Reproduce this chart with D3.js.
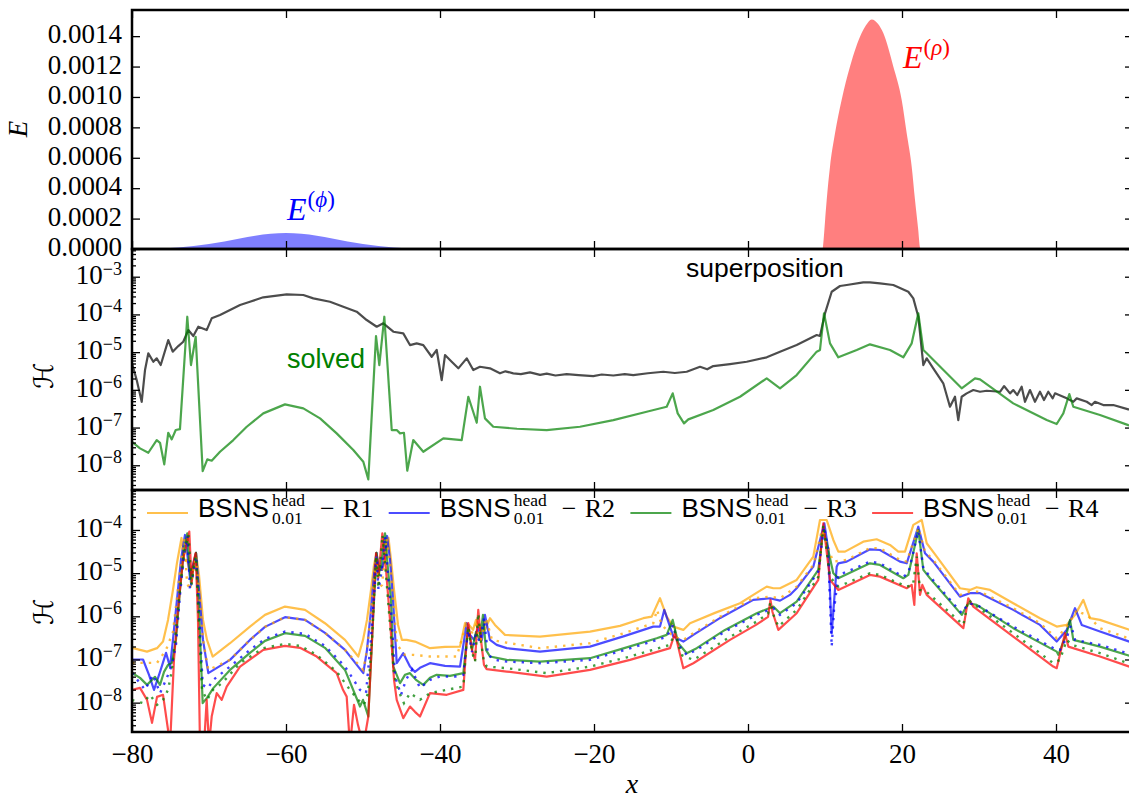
<!DOCTYPE html>
<html><head><meta charset="utf-8">
<script src="https://cdn.jsdelivr.net/npm/d3@7"></script>
<style>body{margin:0;background:#fff}svg{display:block}</style>
</head><body>
<svg id="c" width="1129" height="801"></svg>
<script>
// ---------------- DATA ----------------
const xTicks = [-80, -60, -40, -20, 0, 20, 40];
const eTicks = [0, 0.0002, 0.0004, 0.0006, 0.0008, 0.0010, 0.0012, 0.0014];
const eTickLabels = ["0.0000","0.0002","0.0004","0.0006","0.0008","0.0010","0.0012","0.0014"];
const h2Ticks = [1e-3, 1e-4, 1e-5, 1e-6, 1e-7, 1e-8];
const h2Exps = ["\u22123","\u22124","\u22125","\u22126","\u22127","\u22128"];
const h3Ticks = [1e-4, 1e-5, 1e-6, 1e-7, 1e-8];
const h3Exps = ["\u22124","\u22125","\u22126","\u22127","\u22128"];
const legendRes = ["R1","R2","R3","R4"];
const legendColors = ["orange","blue","green","red"];

// E^(phi) energy
const phiX = [-80,-78,-76,-74,-72,-70,-68,-66,-64,-62,-60,-58,-56,-54,-52,-50,-48,-46,-44,-42,-40,-38,-36];
const phiE = [9.0e-7,2.3e-6,5.0e-6,1.03e-5,1.91e-5,3.21e-5,4.92e-5,6.86e-5,8.69e-5,1.0e-4,1.05e-4,1.0e-4,8.69e-5,6.86e-5,4.92e-5,3.21e-5,1.91e-5,1.03e-5,5.0e-6,2.3e-6,9.0e-7,3e-7,0];
// E^(rho) energy
const rhoX = [9.7,9.8,10.0,10.22,10.65,11.3,12.16,13.25,14.76,15.3,16.06,16.9,17.57,18.87,19.96,20.61,21.26,21.69,22.1,22.34,22.4];
const rhoE = [0,0.00005,0.00018,0.000322,0.000541,0.000761,0.00098,0.0012,0.00142,0.00147,0.00151,0.00148,0.00142,0.0012,0.00098,0.000761,0.000541,0.000322,0.00013,0.00001,0];

// middle panel: superposition and solved
const superposition = [[-80,5.05e-6],[-79.39,1.82e-6],[-78.74,4.83e-7],[-78.31,3.35e-6],[-77.88,9.3e-6],[-77.23,5.56e-6],[-76.79,6.85e-6],[-76.27,4.55e-6],[-75.29,2.09e-5],[-74.71,1.03e-5],[-73.99,1.45e-5],[-73.34,1.89e-5],[-72.69,3.85e-5],[-72.04,2.67e-5],[-71.39,4.72e-5],[-70.30,3.85e-5],[-69.65,7.89e-5],[-68.57,9.64e-5],[-67.27,1.31e-4],[-65.97,1.77e-4],[-64.68,2.17e-4],[-62.95,2.84e-4],[-59.91,3.41e-4],[-57.75,3.27e-4],[-56.45,2.67e-4],[-54.29,2.17e-4],[-52.56,1.6e-4],[-50.82,1.18e-4],[-49.52,7.1e-5],[-48.22,4.72e-5],[-47.36,5.81e-5],[-46.06,3.48e-5],[-44.77,3.15e-5],[-43.90,1.54e-5],[-43.03,1.71e-5],[-42.17,1.54e-5],[-41.08,7.55e-6],[-40.43,1.14e-5],[-39.78,1.82e-6],[-39.35,8.38e-6],[-38.48,5.56e-6],[-37.62,3.72e-6],[-36.53,6.85e-6],[-35.68,3.35e-6],[-34.81,4.1e-6],[-33.51,3.72e-6],[-32.21,2.74e-6],[-31.5,3.1e-6],[-30.48,2.74e-6],[-29.5,2.6e-6],[-28.31,2.9e-6],[-27.0,2.5e-6],[-26.14,2.7e-6],[-25.0,2.4e-6],[-23.55,2.6e-6],[-22.0,2.45e-6],[-20.09,2.32e-6],[-19.0,2.55e-6],[-17.49,2.4e-6],[-16.0,2.6e-6],[-14.90,2.47e-6],[-13.0,2.75e-6],[-11.0,3.02e-6],[-9.5,2.8e-6],[-7.96,3.02e-6],[-6.23,4.1e-6],[-5.3,3.5e-6],[-4.51,4.28e-6],[-2.34,4.83e-6],[-0.17,5.56e-6],[2.43,7.28e-6],[4.16,1.03e-5],[6.32,1.54e-5],[8.92,2.84e-5],[9.35,2.67e-5],[10.0,1.07e-4],[10.87,4.0e-4],[11.95,5.66e-4],[12.82,6.03e-4],[14.97,7.1e-4],[15.84,7.1e-4],[17.14,6.68e-4],[18.87,6.03e-4],[20.82,4.0e-4],[21.47,2.67e-4],[22.12,8.69e-5],[22.77,4.55e-6],[23.21,6.85e-6],[24.06,3.72e-6],[25.36,1.49e-6],[26.23,3.56e-7],[26.88,6.56e-7],[27.31,1.58e-7],[27.75,6.56e-7],[28.40,8.07e-7],[29.26,9.88e-7],[30.13,8.9e-7],[31.0,9.46e-7],[32.73,8.9e-7],[33.25,1.26e-6],[34.03,8.07e-7],[34.45,9.88e-7],[34.97,7.28e-7],[35.54,1.21e-6],[35.97,4.83e-7],[36.62,9.88e-7],[37.27,4.83e-7],[37.92,8.9e-7],[38.44,5.36e-7],[39.0,8.9e-7],[39.57,5.95e-7],[39.87,8.07e-7],[41.39,5.95e-7],[42.25,4.83e-7],[42.69,5.95e-7],[43.99,4.83e-7],[44.64,3.95e-7],[45.06,4.83e-7],[46.14,3.95e-7],[47.44,3.95e-7],[49.39,3.04e-7],[50,2.9e-7]];
const solved = [[-80,4.2e-8],[-78.96,2.81e-8],[-77.88,2.15e-8],[-76.79,4.66e-8],[-76.36,3.95e-8],[-75.81,1.06e-8],[-75.29,7.28e-8],[-74.84,4.86e-8],[-74.32,8.59e-8],[-73.77,9.12e-8],[-72.82,8.69e-5],[-72.34,4.55e-6],[-71.73,2.56e-5],[-70.82,7.02e-9],[-70.22,1.43e-8],[-69.65,1.32e-8],[-68.57,2.28e-8],[-66.84,4.66e-8],[-65.10,1.05e-7],[-62.95,2.38e-7],[-60.13,4.12e-7],[-57.75,3.23e-7],[-55.58,1.75e-7],[-53.42,7.02e-8],[-51.26,2.53e-8],[-49.96,1.24e-8],[-49.31,4.23e-9],[-48.31,2.67e-5],[-47.88,4.55e-6],[-47.23,8.69e-5],[-46.27,8.59e-8],[-45.62,8.59e-8],[-45.19,7.02e-8],[-44.68,7.28e-8],[-44.25,7.15e-9],[-43.47,4.66e-8],[-42.17,2.28e-8],[-39.57,5.18e-8],[-37.18,4.66e-8],[-36.32,6.56e-7],[-35.23,1.34e-7],[-34.81,1.21e-6],[-34.16,1.75e-7],[-33.08,1.05e-7],[-30.0,9.3e-8],[-26.14,8.59e-8],[-21.82,1.05e-7],[-17.49,1.58e-7],[-13.16,2.62e-7],[-10.56,3.56e-7],[-9.78,8.07e-7],[-9.13,2.38e-7],[-8.31,1.29e-7],[-7.75,1.65e-7],[-4.51,2.91e-7],[-1.04,6.56e-7],[2.43,2.02e-6],[4.16,1.1e-6],[6.32,2.47e-6],[8.92,1.03e-5],[9.35,1.14e-5],[9.87,1.07e-4],[10.65,1.71e-5],[11.73,7.28e-6],[14.12,1.14e-5],[15.84,1.61e-5],[18.44,1.14e-5],[20.17,7.28e-6],[21.26,1.71e-5],[22.12,1.07e-4],[22.77,1.14e-5],[23.21,9.3e-6],[27.75,1.1e-6],[29.48,2.02e-6],[30.13,1.9e-6],[34.45,4.38e-7],[38.79,1.58e-7],[40.09,1.24e-7],[40.95,2.38e-7],[41.73,7.74e-7],[42.25,3.56e-7],[45.71,2.15e-7],[49.39,1.16e-7],[50,1.1e-7]];

// bottom panel: resolutions R1..R4 (solid) and rescaled R1..R3 (dotted)
const r1 = [[-80,1.86e-7],[-78.05,1.52e-7],[-76.75,1.83e-7],[-75.97,2.6e-7],[-75.32,8.26e-7],[-74.68,4.08e-6],[-74.16,1.72e-5],[-73.57,6.53e-5],[-73.25,2.02e-5],[-72.86,2.02e-5],[-72.47,1.07e-5],[-72.08,1.55e-5],[-71.69,2.94e-5],[-71.30,9.08e-6],[-70.78,8.26e-7],[-70.26,2.84e-7],[-69.52,1.17e-7],[-67.27,2.38e-7],[-64.68,5.78e-7],[-62.73,1.08e-6],[-60.13,1.68e-6],[-57.53,1.41e-6],[-54.94,6.92e-7],[-52.34,2.84e-7],[-50.61,1.17e-7],[-50.0,2.84e-7],[-49.48,8.26e-7],[-48.96,4.08e-6],[-48.57,1.55e-5],[-48.25,2.94e-5],[-47.92,1.55e-5],[-47.53,1.19e-5],[-47.14,2.02e-5],[-46.69,6.53e-5],[-46.36,2.02e-5],[-45.97,4.08e-6],[-45.45,6.32e-7],[-44.94,2.84e-7],[-44.33,2.84e-7],[-43.25,2.6e-7],[-41.30,1.83e-7],[-39.35,1.96e-7],[-37.40,1.99e-7],[-36.75,6.92e-7],[-36.23,6.32e-7],[-35.71,4.84e-7],[-35.32,8.26e-7],[-34.81,5.39e-7],[-34.16,4.84e-7],[-33.51,9.04e-7],[-32.86,6.32e-7],[-31.56,3.71e-7],[-27.01,3.39e-7],[-20.52,4.43e-7],[-16.62,6.0e-7],[-13.60,9.04e-7],[-12.51,9.84e-7],[-11.43,2.62e-6],[-10.56,9.84e-7],[-9.70,5.78e-7],[-8.40,4.84e-7],[-7.53,6.92e-7],[-4.29,1.2e-6],[-1.04,2.01e-6],[0.69,3.13e-6],[2.43,4.87e-6],[3.29,4.47e-6],[4.16,4.47e-6],[6.32,6.97e-6],[8.48,2.41e-5],[9.35,1.7e-4],[10.22,1.7e-4],[11.08,5.87e-5],[11.73,3.15e-5],[12.60,3.15e-5],[14.97,5.36e-5],[16.71,6.09e-5],[18.44,4.5e-5],[19.52,3.15e-5],[20.39,3.15e-5],[21.47,1.31e-4],[22.56,1.7e-4],[23.21,4.92e-5],[24.51,2.41e-5],[27.53,4.47e-6],[28.83,4.08e-6],[29.70,4.72e-6],[31.43,4.08e-6],[34.45,2.01e-6],[37.92,9.04e-7],[40.09,5.78e-7],[41.39,6.32e-7],[42.47,1.08e-6],[43.55,2.4e-6],[44.42,9.04e-7],[45.71,8.26e-7],[50,4.59e-7]];
const r2 = [[-80,1.0e-7],[-78.57,1.0e-7],[-77.79,4.41e-8],[-77.14,1.98e-8],[-76.36,5.16e-8],[-75.58,1.42e-7],[-75.06,6.74e-8],[-74.68,2.84e-7],[-74.16,2.4e-6],[-73.64,2.02e-5],[-73.12,7.66e-5],[-72.73,2.02e-5],[-72.47,7.72e-6],[-72.08,1.55e-5],[-71.69,2.94e-5],[-71.30,4.08e-6],[-70.78,2.84e-7],[-70.09,4.82e-8],[-67.27,9.79e-8],[-64.68,2.84e-7],[-62.73,5.69e-7],[-60.13,9.53e-7],[-57.53,8.26e-7],[-54.94,4.13e-7],[-52.34,1.67e-7],[-49.96,4.82e-8],[-49.48,1.67e-7],[-48.96,1.41e-6],[-48.57,9.08e-6],[-48.25,2.94e-5],[-47.92,1.19e-5],[-47.53,1.19e-5],[-47.21,2.64e-5],[-46.88,7.26e-5],[-46.49,2.02e-5],[-46.10,2.4e-6],[-45.62,8.2e-8],[-44.77,1.4e-7],[-43.90,6.85e-8],[-43.25,5.16e-8],[-42.60,6.4e-8],[-41.30,8.2e-8],[-39.35,7.11e-8],[-37.40,6.85e-8],[-36.53,6.92e-7],[-36.10,3.71e-7],[-35.58,2.84e-7],[-35.06,5.39e-7],[-34.55,2.84e-7],[-34.16,1.08e-6],[-33.51,2.84e-7],[-32.64,2.18e-7],[-31.34,1.83e-7],[-27.01,1.52e-7],[-20.52,1.99e-7],[-15.97,3.52e-7],[-12.30,5.78e-7],[-11.43,5.78e-7],[-10.87,1.41e-6],[-9.70,3.39e-7],[-8.40,2.6e-7],[-7.10,3.71e-7],[-3.61,9.18e-7],[0.69,2.4e-6],[2.86,2.62e-6],[4.16,2.31e-6],[5.45,3.13e-6],[6.32,4.47e-6],[8.48,1.41e-5],[9.91,1.43e-4],[10.43,3.44e-5],[10.87,4.06e-7],[11.52,1.41e-5],[11.73,1.69e-5],[12.82,1.85e-5],[15.84,3.57e-5],[17.14,3.44e-5],[19.74,1.85e-5],[20.61,1.69e-5],[22.12,1.19e-4],[22.99,2.89e-5],[24.06,1.85e-5],[27.53,2.86e-6],[28.83,3.43e-6],[30.13,3.43e-6],[34.45,1.41e-6],[37.92,6.32e-7],[40.09,2.6e-7],[41.39,4.84e-7],[42.47,1.54e-6],[43.34,6.32e-7],[45.71,4.43e-7],[50,2.42e-7]];
const r3 = [[-80,4.9e-8],[-78.96,3.75e-8],[-78.05,2.58e-8],[-77.01,3.96e-8],[-76.36,2.58e-8],[-75.84,5.16e-8],[-75.32,7.5e-8],[-74.81,8.34e-8],[-74.29,2.84e-7],[-73.77,4.08e-6],[-73.25,3.44e-5],[-72.82,8.39e-5],[-72.60,2.02e-5],[-72.34,5.93e-6],[-72.08,1.19e-5],[-71.69,2.94e-5],[-71.30,1.41e-6],[-70.82,9.73e-9],[-70.26,1.29e-8],[-69.44,2.17e-8],[-67.27,5.74e-8],[-64.68,1.42e-7],[-62.73,2.7e-7],[-60.13,4.06e-7],[-57.53,3.52e-7],[-54.94,1.86e-7],[-52.34,5.74e-8],[-50.39,8.13e-9],[-50.0,1.16e-8],[-49.31,4.77e-9],[-48.96,9.79e-8],[-48.57,2.4e-6],[-48.25,2.94e-5],[-47.99,9.08e-6],[-47.66,1.55e-5],[-47.14,8.39e-5],[-46.75,1.19e-5],[-46.36,2.4e-6],[-46.06,6.85e-8],[-45.19,2.83e-8],[-44.55,4.41e-8],[-43.90,4.82e-8],[-43.12,3.37e-8],[-42.17,2.58e-8],[-41.30,3.75e-8],[-40.43,4.41e-8],[-38.70,4.17e-8],[-36.97,4.82e-8],[-36.36,5.39e-7],[-35.84,1.67e-7],[-35.32,4.36e-7],[-34.81,2.84e-7],[-34.42,1.08e-6],[-34.03,1.67e-7],[-33.51,1.17e-7],[-31.34,9.79e-8],[-27.01,8.94e-8],[-20.52,1.07e-7],[-15.97,1.86e-7],[-11.86,3.11e-7],[-10.56,3.71e-7],[-9.78,8.26e-7],[-9.05,2.38e-7],[-7.96,1.4e-7],[-6.66,1.83e-7],[-2.99,4.84e-7],[1.13,1.18e-6],[3.29,1.68e-6],[4.16,1.18e-6],[6.32,2.19e-6],[9.13,1.19e-5],[9.78,1.0e-4],[10.22,4.92e-5],[11.08,9.95e-6],[11.73,7.62e-6],[15.84,1.69e-5],[17.14,1.55e-5],[20.17,7.62e-6],[20.82,9.08e-6],[22.12,1.0e-4],[22.77,1.19e-5],[23.64,7.62e-6],[27.76,1.08e-6],[28.61,2.01e-6],[29.70,1.84e-6],[34.45,5.31e-7],[40.09,1.52e-7],[40.30,1.28e-7],[41.39,4.06e-7],[41.82,8.26e-7],[42.25,2.84e-7],[45.71,1.99e-7],[50,1.15e-7]];
const r4 = [[-80,1.98e-8],[-78.96,2.2e-8],[-78.05,1.16e-8],[-77.40,3.4e-9],[-76.75,1.36e-8],[-75.97,1.52e-8],[-75.32,2.34e-9],[-75.06,1.0e-9],[-74.55,9.79e-8],[-74.03,1.41e-6],[-73.38,2.02e-5],[-72.56,9.14e-5],[-72.25,5.93e-6],[-71.95,2.02e-5],[-71.73,2.89e-5],[-71.43,8.26e-7],[-71.17,1.0e-9],[-70.65,1.0e-9],[-70.30,1.16e-8],[-70.0,1.0e-9],[-69.65,4.77e-9],[-69.0,1.66e-8],[-68.35,1.16e-8],[-67.70,2.36e-8],[-65.97,6.85e-8],[-62.95,1.67e-7],[-60.13,2.07e-7],[-58.18,1.86e-7],[-56.01,1.17e-7],[-53.42,4.82e-8],[-52.60,1.98e-8],[-52.12,1.38e-8],[-51.69,1.0e-9],[-51.17,8.9e-9],[-50.65,3.06e-9],[-49.96,1.0e-9],[-49.31,4.77e-9],[-48.83,2.84e-7],[-48.31,2.89e-5],[-48.01,7.74e-6],[-47.49,8.39e-5],[-47.01,1.19e-5],[-46.49,8.26e-7],[-45.97,3.37e-8],[-45.62,1.16e-8],[-44.77,4.38e-9],[-43.90,8.13e-9],[-43.25,6.12e-9],[-42.60,4.77e-9],[-41.30,1.66e-8],[-39.13,1.52e-8],[-36.97,1.98e-8],[-36.62,1.67e-7],[-36.32,6.92e-7],[-35.84,1.67e-7],[-35.45,9.79e-8],[-35.03,1.41e-6],[-34.68,2.84e-7],[-34.29,7.5e-8],[-33.94,5.96e-8],[-31.34,5.25e-8],[-26.14,4.02e-8],[-20.52,5.74e-8],[-15.32,9.79e-8],[-10.13,1.83e-7],[-9.48,4.06e-7],[-8.40,6.29e-8],[-7.10,8.2e-8],[-2.34,2.84e-7],[1.04,6.32e-7],[2.60,9.69e-7],[2.92,2.4e-6],[3.18,1.26e-6],[3.94,4.84e-7],[6.32,1.18e-6],[9.13,6.97e-6],[9.78,1.43e-4],[10.65,6.97e-6],[11.73,4.08e-6],[15.84,9.08e-6],[17.14,8.3e-6],[20.61,4.47e-6],[21.26,5.33e-6],[21.60,1.84e-6],[21.91,2.89e-5],[22.34,3.13e-6],[22.64,5.33e-6],[23.21,3.13e-6],[27.97,5.31e-7],[28.61,2.62e-6],[29.26,1.68e-6],[34.45,3.39e-7],[39.65,6.85e-8],[40.09,6.29e-8],[41.17,4.06e-7],[41.60,1.99e-7],[45.71,1.17e-7],[50,6.4e-8]];
const r1dot = [[-80,8.34e-8],[-76.75,8.34e-8],[-75.58,1.67e-7],[-74.68,4.36e-7],[-74.16,2.66e-6],[-73.64,1.82e-5],[-73.18,6.53e-5],[-72.86,5.93e-6],[-72.47,4.08e-6],[-71.69,2.5e-5],[-71.30,4.08e-6],[-70.78,2.84e-7],[-70.09,5.74e-8],[-67.27,9.79e-8],[-64.68,2.84e-7],[-62.73,5.69e-7],[-60.13,9.53e-7],[-57.53,8.26e-7],[-54.94,4.13e-7],[-52.34,1.67e-7],[-49.96,5.74e-8],[-49.48,1.67e-7],[-48.96,1.26e-6],[-48.31,2.5e-5],[-47.92,4.54e-6],[-47.53,5.33e-6],[-46.95,6.53e-5],[-46.49,1.82e-5],[-46.10,2.4e-6],[-45.58,2.18e-7],[-44.55,1.28e-7],[-43.47,1.28e-7],[-41.30,1.17e-7],[-37.83,1.17e-7],[-36.62,6.32e-7],[-36.10,3.52e-7],[-35.32,6.32e-7],[-34.68,2.84e-7],[-34.03,9.18e-7],[-33.25,2.84e-7],[-32.21,2.6e-7],[-27.01,1.83e-7],[-20.52,2.38e-7],[-15.97,4.13e-7],[-12.30,6.92e-7],[-11.82,1.41e-6],[-11.21,6.32e-7],[-9.70,3.39e-7],[-8.40,2.84e-7],[-7.10,4.06e-7],[-3.61,9.84e-7],[0.69,2.62e-6],[2.86,2.86e-6],[4.16,2.62e-6],[6.32,4.87e-6],[8.48,1.55e-5],[9.61,1.0e-4],[10.43,3.83e-5],[11.04,1.85e-5],[12.82,2.02e-5],[15.84,3.83e-5],[17.14,3.77e-5],[19.74,2.02e-5],[20.61,1.85e-5],[22.12,1.11e-4],[22.99,3.15e-5],[24.06,2.02e-5],[27.53,3.13e-6],[28.83,3.73e-6],[30.13,3.73e-6],[34.45,1.54e-6],[37.92,6.92e-7],[40.09,3.11e-7],[41.39,5.78e-7],[42.73,1.41e-6],[43.38,1.18e-6],[44.03,1.08e-6],[45.71,5.31e-7],[50,2.84e-7]];
const r2dot = [[-80,4.9e-8],[-78.31,1.98e-8],[-77.27,4.41e-8],[-76.36,1.66e-8],[-75.58,3.37e-8],[-74.81,7.5e-8],[-74.29,2.18e-7],[-73.77,3.13e-6],[-73.25,2.64e-5],[-72.79,7.26e-5],[-72.47,4.08e-6],[-72.08,9.08e-6],[-71.69,2.5e-5],[-71.30,1.26e-6],[-70.82,2.58e-8],[-70.13,2.17e-8],[-69.44,3.37e-8],[-67.27,6.85e-8],[-64.68,1.67e-7],[-62.73,3.0e-7],[-60.13,4.43e-7],[-57.53,3.92e-7],[-54.94,2.07e-7],[-52.34,6.85e-8],[-50.39,1.98e-8],[-49.61,1.66e-8],[-49.09,1.67e-7],[-48.57,2.66e-6],[-48.25,2.5e-5],[-47.99,4.08e-6],[-47.66,9.08e-6],[-47.14,7.26e-5],[-46.75,9.08e-6],[-46.36,1.41e-6],[-45.84,4.02e-8],[-45.06,1.52e-8],[-44.42,3.37e-8],[-43.64,5.74e-8],[-42.60,2.2e-8],[-41.30,3.37e-8],[-40.0,4.02e-8],[-38.05,4.02e-8],[-36.97,4.41e-8],[-36.36,4.84e-7],[-35.84,1.49e-7],[-35.32,3.92e-7],[-34.81,2.54e-7],[-34.29,9.18e-7],[-33.77,1.28e-7],[-32.86,9.79e-8],[-31.34,8.94e-8],[-27.01,8.2e-8],[-20.52,9.79e-8],[-15.97,1.67e-7],[-11.86,2.84e-7],[-10.56,3.33e-7],[-9.74,6.32e-7],[-9.05,2.18e-7],[-7.96,1.28e-7],[-6.66,1.67e-7],[-2.99,4.43e-7],[1.13,1.08e-6],[3.29,1.54e-6],[4.16,1.08e-6],[6.32,2.01e-6],[9.13,1.09e-5],[9.87,1.19e-4],[10.39,3.83e-5],[10.87,1.99e-7],[11.17,1.41e-6],[11.73,9.08e-6],[12.82,1.07e-5],[15.84,1.85e-5],[17.14,1.69e-5],[20.17,8.3e-6],[20.82,9.95e-6],[22.12,9.48e-5],[22.77,1.3e-5],[23.64,8.3e-6],[27.76,1.18e-6],[28.61,2.01e-6],[29.70,1.84e-6],[34.45,5.78e-7],[40.09,1.67e-7],[40.52,1.67e-7],[41.39,3.16e-7],[41.95,6.32e-7],[42.47,2.84e-7],[45.71,2.18e-7],[50,1.28e-7]];
const r3dot = [[-80,1.16e-8],[-78.57,9.73e-9],[-77.66,1.52e-8],[-76.75,8.9e-9],[-75.97,1.16e-8],[-75.32,1.98e-8],[-74.81,5.74e-8],[-74.29,4.84e-7],[-73.77,4.08e-6],[-73.25,2.94e-5],[-72.66,7.66e-5],[-72.27,5.33e-6],[-71.95,1.55e-5],[-71.69,2.5e-5],[-71.30,6.32e-7],[-70.91,1.98e-8],[-70.26,1.16e-8],[-69.48,1.98e-8],[-68.31,2.83e-8],[-65.97,8.2e-8],[-62.95,1.83e-7],[-60.13,2.3e-7],[-58.18,2.07e-7],[-56.01,1.28e-7],[-53.42,5.25e-8],[-51.69,1.98e-8],[-50.65,1.16e-8],[-49.87,8.9e-9],[-49.35,1.66e-8],[-48.83,2.84e-7],[-48.31,2.5e-5],[-48.01,4.54e-6],[-47.47,7.66e-5],[-47.01,9.08e-6],[-46.49,6.32e-7],[-45.97,4.41e-8],[-45.45,1.98e-8],[-44.68,9.73e-9],[-43.90,1.66e-8],[-42.60,1.16e-8],[-41.30,1.66e-8],[-39.13,1.98e-8],[-36.97,2.36e-8],[-36.62,1.67e-7],[-36.32,5.78e-7],[-35.84,1.49e-7],[-35.45,8.8e-8],[-35.03,1.18e-6],[-34.68,2.54e-7],[-34.29,8.8e-8],[-33.90,6.85e-8],[-31.34,6.29e-8],[-26.14,4.82e-8],[-20.52,6.85e-8],[-15.32,1.17e-7],[-10.13,2.18e-7],[-9.48,4.36e-7],[-8.70,1.28e-7],[-7.10,9.79e-8],[-2.34,3.33e-7],[1.04,7.42e-7],[2.60,1.14e-6],[2.92,2.15e-6],[3.25,1.14e-6],[3.94,5.78e-7],[6.32,1.41e-6],[9.13,8.17e-6],[9.78,1.31e-4],[10.65,8.17e-6],[11.73,4.87e-6],[15.84,9.95e-6],[17.14,9.08e-6],[20.61,4.87e-6],[21.43,5.33e-6],[21.91,2.41e-5],[22.34,4.08e-6],[23.21,3.67e-6],[27.97,6.32e-7],[28.61,2.4e-6],[29.26,1.94e-6],[34.45,4.06e-7],[39.65,8.2e-8],[40.52,9.79e-8],[41.39,2.84e-7],[42.08,2.18e-7],[45.71,1.4e-7],[50,7.5e-8]];

// ---------------- LAYOUT ----------------
const L = 132, R = 1133;
const P1 = {top: 10, bottom: 249};
const P2 = {top: 249, bottom: 490};
const P3 = {top: 490, bottom: 732};
const serif = "'Liberation Serif','DejaVu Serif',serif";
const sans = "'Liberation Sans',Arial,sans-serif";

const svg = d3.select("#c");
svg.append("rect").attr("width",1129).attr("height",801).attr("fill","#fff");

const x = d3.scaleLinear().domain([-80, 50]).range([L, R]);
const yE = d3.scaleLinear().domain([0, 0.001572]).range([P1.bottom, P1.top]);
const yS = d3.scaleLog().domain([2.21e-9, 5.43e-3]).range([P2.bottom, P2.top]);
const yR = d3.scaleLog().domain([2.09e-9, 8.43e-4]).range([P3.bottom, P3.top]);

const defs = svg.append("defs");
[P1,P2,P3].forEach((p,i)=>{
  defs.append("clipPath").attr("id","clip"+i).append("rect")
    .attr("x",L).attr("y",p.top).attr("width",R-L).attr("height",p.bottom-p.top);
});

// ---- panel 1 ----
const g1 = svg.append("g").attr("clip-path","url(#clip0)");
const phiData = phiX.map((d,i)=>[d,phiE[i]]);
const rhoData = rhoX.map((d,i)=>[d,rhoE[i]]);
const area = d3.area().x(d=>x(d[0])).y0(yE(0)).y1(d=>yE(d[1])).curve(d3.curveMonotoneX);
g1.append("path").datum(phiData).attr("d",area).attr("fill","blue").attr("fill-opacity",0.5);
g1.append("path").datum(rhoData).attr("d",area).attr("fill","red").attr("fill-opacity",0.5);

// ---- panel 2 ----
const g2 = svg.append("g").attr("clip-path","url(#clip1)");
const lineS = d3.line().x(d=>x(d[0])).y(d=>yS(d[1]));
g2.append("path").datum(superposition).attr("d",lineS).attr("fill","none")
  .attr("stroke","black").attr("stroke-opacity",0.7).attr("stroke-width",2.2).attr("stroke-linejoin","round");
g2.append("path").datum(solved).attr("d",lineS).attr("fill","none")
  .attr("stroke","green").attr("stroke-opacity",0.7).attr("stroke-width",2.2).attr("stroke-linejoin","round");

// ---- panel 3 ----
const g3 = svg.append("g").attr("clip-path","url(#clip2)");
const lineR = d3.line().x(d=>x(d[0])).y(d=>yR(d[1]));
[[r1,"orange"],[r2,"blue"],[r3,"green"],[r4,"red"]].forEach(([d,c])=>{
  g3.append("path").datum(d).attr("d",lineR).attr("fill","none")
    .attr("stroke",c).attr("stroke-opacity",0.7).attr("stroke-width",2.2).attr("stroke-linejoin","round");
});
[[r1dot,"orange"],[r2dot,"blue"],[r3dot,"green"]].forEach(([d,c])=>{
  g3.append("path").datum(d).attr("d",lineR).attr("fill","none")
    .attr("stroke",c).attr("stroke-opacity",0.75).attr("stroke-width",2.4)
    .attr("stroke-dasharray","2.4,6");
});

// ---------------- AXES ----------------
function minorValues(scale){
  const [a,b] = scale.domain(); const out=[];
  for(let e=Math.floor(Math.log10(a)); e<=Math.ceil(Math.log10(b)); e++){
    for(let m=2;m<=9;m++){ const v=m*Math.pow(10,e); if(v>=a && v<=b) out.push(v); }
  }
  return out;
}
function styleAxis(sel){
  sel.select(".domain").remove();
  sel.selectAll(".tick line").attr("stroke","#000").attr("stroke-width",1.3);
  sel.selectAll("text").attr("font-family",serif).attr("font-size",27).attr("fill","#000");
}
function panelAxes(p, yScale, opts){
  svg.append("g").attr("transform",`translate(0,${p.top})`)
    .call(d3.axisTop(x).tickValues(xTicks).tickSize(-8).tickSizeOuter(0).tickFormat("")).call(styleAxis);
  svg.append("g").attr("transform",`translate(0,${p.bottom})`)
    .call(d3.axisBottom(x).tickValues(xTicks).tickSize(-8).tickSizeOuter(0).tickPadding(12)
      .tickFormat(opts.xLabels ? d3.format("d") : "")).call(styleAxis);
  const yl = svg.append("g").attr("transform",`translate(${L},0)`)
    .call(d3.axisLeft(yScale).tickValues(opts.yTicks).tickSize(-8).tickSizeOuter(0).tickPadding(10)
      .tickFormat(opts.yFormat || "")).call(styleAxis);
  if(opts.yFormat) yl.selectAll("text").attr("dy","0.25em");
  svg.append("g").attr("transform",`translate(${R},0)`)
    .call(d3.axisRight(yScale).tickValues(opts.yTicks).tickSize(-8).tickSizeOuter(0).tickFormat("")).call(styleAxis);
  if(opts.log){
    const mv = minorValues(yScale);
    svg.append("g").attr("transform",`translate(${L},0)`)
      .call(d3.axisLeft(yScale).tickValues(mv).tickSize(-4).tickSizeOuter(0).tickFormat("")).call(styleAxis);
    svg.append("g").attr("transform",`translate(${R},0)`)
      .call(d3.axisRight(yScale).tickValues(mv).tickSize(-4).tickSizeOuter(0).tickFormat("")).call(styleAxis);
    const lab = svg.append("g");
    opts.yTicks.forEach((t,i)=>{
      const tx = lab.append("text").attr("x",122).attr("y",yScale(t)+7)
        .attr("text-anchor","end").attr("font-family",serif).attr("font-size",27).attr("fill","#000");
      tx.append("tspan").text("10");
      tx.append("tspan").attr("dy",-9).attr("font-size",18).text(opts.exps[i]);
    });
  }
  svg.append("rect").attr("x",L).attr("y",p.top).attr("width",R-L).attr("height",p.bottom-p.top)
    .attr("fill","none").attr("stroke","#000").attr("stroke-width",2.5);
}
panelAxes(P1, yE, {yTicks: eTicks, yFormat: (d,i)=>eTickLabels[i], xLabels:false});
panelAxes(P2, yS, {yTicks: h2Ticks, log:true, exps:h2Exps, xLabels:false});
panelAxes(P3, yR, {yTicks: h3Ticks, log:true, exps:h3Exps, xLabels:true});

// axis titles
svg.append("text").attr("transform","translate(27,129) rotate(-90)").attr("text-anchor","middle")
  .attr("font-family",serif).attr("font-style","italic").attr("font-size",27).text("E");
svg.append("text").attr("transform","translate(53,376) rotate(-90)").attr("text-anchor","middle")
  .attr("font-family","'DejaVu Serif','DejaVu Sans',serif").attr("font-size",27).text("\u210B");
svg.append("text").attr("transform","translate(53,612) rotate(-90)").attr("text-anchor","middle")
  .attr("font-family","'DejaVu Serif','DejaVu Sans',serif").attr("font-size",27).text("\u210B");
svg.append("text").attr("x",632).attr("y",793).attr("text-anchor","middle")
  .attr("font-family",serif).attr("font-style","italic").attr("font-size",28).text("x");

// annotations
function energyLabel(xp, yp, color, sym){
  const t = svg.append("text").attr("x",xp).attr("y",yp).attr("fill",color)
    .attr("font-family",serif).attr("font-style","italic").attr("font-size",32);
  t.append("tspan").text("E");
  t.append("tspan").attr("dy",-13).attr("dx",1).attr("font-size",23).attr("font-style","normal").text("(");
  t.append("tspan").attr("font-size",23).text(sym);
  t.append("tspan").attr("font-size",23).attr("font-style","normal").text(")");
}
energyLabel(287, 220, "blue", "\u03D5");
energyLabel(903, 68, "red", "\u03C1");
svg.append("text").attr("x",686).attr("y",277).attr("font-family",sans).attr("font-size",26.5)
  .attr("fill","#000").text("superposition");
svg.append("text").attr("x",287).attr("y",368).attr("font-family",sans).attr("font-size",27)
  .attr("fill","green").text("solved");

// legend
legendRes.forEach((r,i)=>{
  const gx = 147 + i*241.7;
  const lg = svg.append("g");
  lg.append("line").attr("x1",gx).attr("x2",gx+41).attr("y1",513).attr("y2",513)
    .attr("stroke",legendColors[i]).attr("stroke-opacity",0.7).attr("stroke-width",2.2);
  lg.append("text").attr("x",gx+51).attr("y",517).attr("font-family",sans).attr("font-size",26).text("BSNS");
  lg.append("text").attr("x",gx+125).attr("y",506).attr("font-family",serif).attr("font-size",17.5).text("head");
  lg.append("text").attr("x",gx+125).attr("y",524).attr("font-family",serif).attr("font-size",17.5).text("0.01");
  lg.append("text").attr("x",gx+173).attr("y",517).attr("font-family",serif).attr("font-size",26).text("\u2212");
  lg.append("text").attr("x",gx+196).attr("y",517).attr("font-family",serif).attr("font-size",26).text(r);
});
</script>
</body></html>
